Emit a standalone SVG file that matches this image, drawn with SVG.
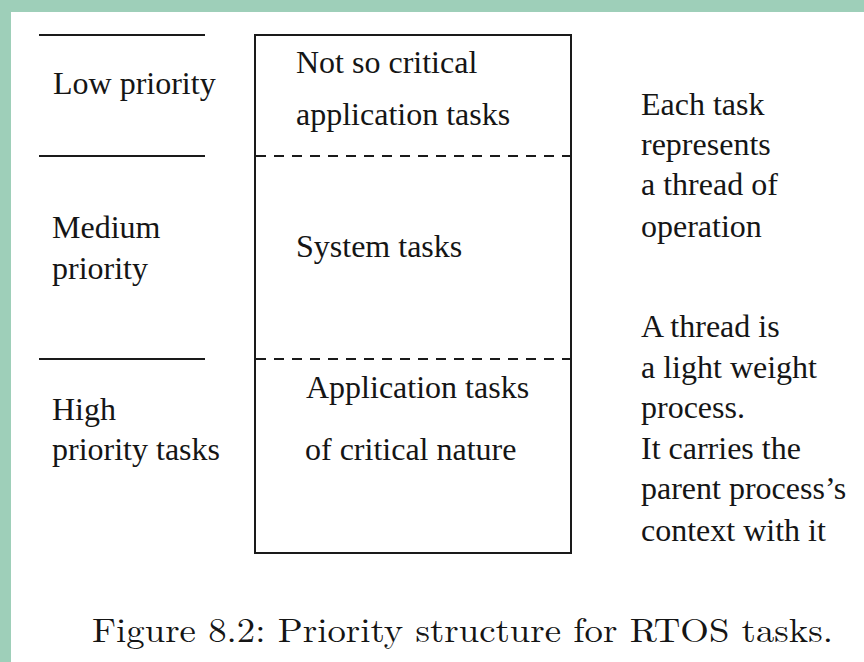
<svg xmlns="http://www.w3.org/2000/svg" width="864" height="662" viewBox="0 0 864 662">
<style>
.t{font-family:"Times New Roman","Tinos","Nimbus Roman","Liberation Serif",serif;font-size:32px;fill:#151515}
.ln{stroke:#1a1a1a;stroke-width:2;fill:none}
.dash{stroke:#1a1a1a;stroke-width:2;stroke-dasharray:10 8;fill:none}
.cap{font-family:"Latin Modern Roman","CMU Serif","Liberation Serif",serif;font-size:34px;fill:#151515}
</style>
<rect x="0" y="0" width="864" height="662" fill="#ffffff"/>
<rect x="0" y="0" width="864" height="12" fill="#9ecfb9"/>
<rect x="0" y="0" width="11" height="662" fill="#9ecfb9"/>
<g id="connectors">
<line class="ln" x1="39" y1="35" x2="205" y2="35"/>
<line class="ln" x1="39" y1="156" x2="205" y2="156"/>
<line class="ln" x1="39" y1="359" x2="205" y2="359"/>
</g>
<g id="box">
<rect class="ln" x="255" y="35" width="316" height="518"/>
<line class="dash" x1="256" y1="156" x2="570" y2="156"/>
<line class="dash" x1="256" y1="359" x2="570" y2="359"/>
</g>
<g class="t">
<g id="low">
<text x="53" y="94">Low priority</text>
</g>
<g id="medium">
<text x="52" y="238">Medium</text>
<text x="52" y="279">priority</text>
</g>
<g id="high">
<text x="52" y="420">High</text>
<text x="52" y="460">priority tasks</text>
</g>
<g id="app-noncritical">
<text x="296" y="73">Not so critical</text>
<text x="296" y="125">application tasks</text>
</g>
<g id="system">
<text x="296" y="257">System tasks</text>
</g>
<g id="app-critical">
<text x="306" y="398">Application tasks</text>
<text x="305" y="460">of critical nature</text>
</g>
<g id="note1">
<text x="641" y="115">Each task</text>
<text x="641" y="155">represents</text>
<text x="641" y="195">a thread of</text>
<text x="641" y="237">operation</text>
</g>
<g id="note2">
<text x="641" y="337">A thread is</text>
<text x="641" y="378">a light weight</text>
<text x="641" y="418">process.</text>
<text x="641" y="459">It carries the</text>
<text x="641" y="499">parent process’s</text>
<text x="641" y="541">context with it</text>
</g>
</g>
<g id="caption">
<text class="cap" x="92" y="642" textLength="741" lengthAdjust="spacingAndGlyphs">Figure 8.2: Priority structure for RTOS tasks.</text>
</g>
</svg>
